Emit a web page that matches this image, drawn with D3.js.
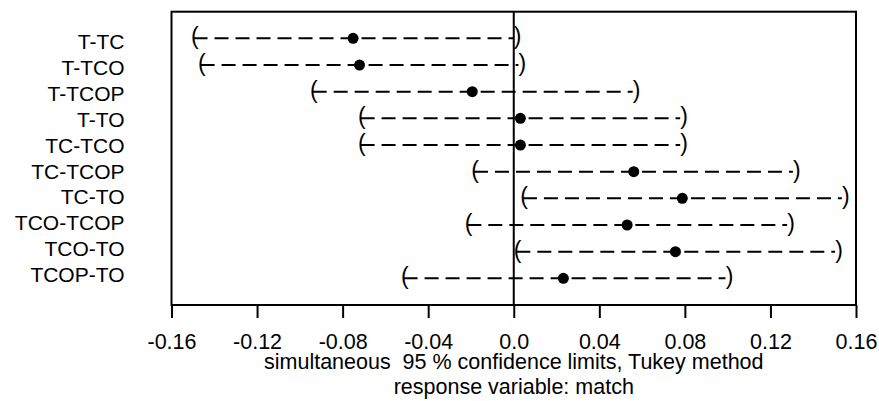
<!DOCTYPE html>
<html>
<head>
<meta charset="utf-8">
<script src="https://cdn.jsdelivr.net/npm/d3@7"></script>
<style>
  html, body { margin: 0; padding: 0; background: #fff; }
  svg text { font-family: "Liberation Sans", Arial, sans-serif; fill: #000; }
</style>
</head>
<body>
<svg id="chart" width="879" height="401"></svg>
<script>
// ---- data ----
const comparisons = ["T-TC", "T-TCO", "T-TCOP", "T-TO", "TC-TCO", "TC-TCOP", "TC-TO", "TCO-TCOP", "TCO-TO", "TCOP-TO"];
const estimates   = [-0.0751, -0.0721, -0.0194, 0.0031, 0.0031, 0.0561, 0.0788, 0.0530, 0.0756, 0.0232];
const lowers      = [-0.1497, -0.1464, -0.0940, -0.0716, -0.0716, -0.0186, 0.0043, -0.0217, 0.0012, -0.0515];
const uppers      = [-0.0001, 0.0022, 0.0556, 0.0778, 0.0778, 0.1305, 0.1534, 0.1278, 0.1502, 0.0990];
const tickValues  = [-0.16, -0.12, -0.08, -0.04, 0, 0.04, 0.08, 0.12, 0.16];
const tickLabels  = ["-0.16", "-0.12", "-0.08", "-0.04", "0.0", "0.04", "0.08", "0.12", "0.16"];
const xTitle1 = "simultaneous  95 % confidence limits, Tukey method";
const xTitle2 = "response variable: match";

// ---- layout ----
const svg = d3.select("#chart");
const L = 171.5, R = 856, T = 11.7, B = 305;

const x = d3.scaleLinear().domain([-0.16, 0.16]).range([L, R]);
const y = d3.scaleLinear().domain([0, comparisons.length + 1]).range([T, B]);
const yLab = d3.scaleLinear().domain([0, comparisons.length - 1]).range([41.5, 274.5]);

const rows = comparisons.map((c, i) => ({ name: c, est: estimates[i], lwr: lowers[i], upr: uppers[i], i }));

// zero reference line
svg.append("line")
  .attr("x1", x(0)).attr("x2", x(0))
  .attr("y1", T).attr("y2", B)
  .attr("stroke", "#000").attr("stroke-width", 2);

// dashed interval lines
svg.append("g").selectAll("line").data(rows).join("line")
  .attr("x1", d => x(d.lwr)).attr("x2", d => x(d.upr))
  .attr("y1", d => y(d.i + 1)).attr("y2", d => y(d.i + 1))
  .attr("stroke", "#000").attr("stroke-width", 2)
  .attr("stroke-dasharray", "14,7");

// parentheses at limits
svg.append("g").selectAll("text").data(rows).join("text")
  .attr("x", d => x(d.lwr)).attr("y", d => y(d.i + 1))
  .attr("dx", 1.2).attr("dy", "0.26em")
  .attr("text-anchor", "middle").attr("font-size", 23)
  .text("(");
svg.append("g").selectAll("text").data(rows).join("text")
  .attr("x", d => x(d.upr)).attr("y", d => y(d.i + 1))
  .attr("dx", 4).attr("dy", "0.26em")
  .attr("text-anchor", "middle").attr("font-size", 23)
  .text(")");

// point estimates
svg.append("g").selectAll("circle").data(rows).join("circle")
  .attr("cx", d => x(d.est)).attr("cy", d => y(d.i + 1))
  .attr("r", 5.5).attr("fill", "#000");

// box
svg.append("rect")
  .attr("x", L).attr("y", T).attr("width", R - L).attr("height", B - T)
  .attr("fill", "none").attr("stroke", "#000").attr("stroke-width", 2);

// row labels
svg.append("g").selectAll("text").data(rows).join("text")
  .attr("x", 124.5).attr("y", d => yLab(d.i))
  .attr("dy", "0.36em")
  .attr("text-anchor", "end").attr("font-size", 21)
  .text(d => d.name);

// x axis
const xAxis = d3.axisBottom(x)
  .tickValues(tickValues)
  .tickFormat((d, i) => tickLabels[i])
  .tickSize(13).tickPadding(16);
const gx = svg.append("g").attr("transform", `translate(0,${B})`).call(xAxis);
gx.select(".domain").remove();
gx.selectAll(".tick line").attr("stroke", "#000").attr("stroke-width", 2);
gx.selectAll(".tick text").attr("font-size", 21.5)
  .attr("font-family", "Liberation Sans, Arial, sans-serif").attr("fill", "#000");

// titles
svg.append("text").attr("x", (L + R) / 2).attr("y", 369)
  .attr("text-anchor", "middle").attr("font-size", 21.5)
  .style("white-space", "pre").attr("xml:space", "preserve")
  .text(xTitle1);
svg.append("text").attr("x", (L + R) / 2).attr("y", 394)
  .attr("text-anchor", "middle").attr("font-size", 21.5)
  .text(xTitle2);
</script>
</body>
</html>
